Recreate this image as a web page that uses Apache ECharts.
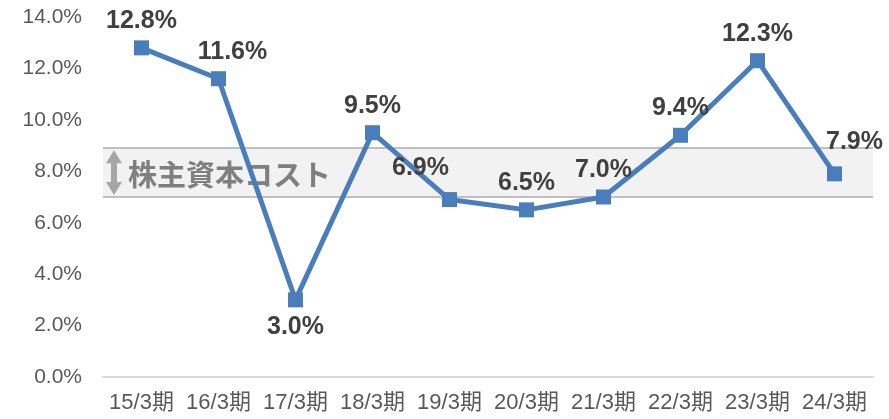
<!DOCTYPE html>
<html>
<head>
<meta charset="utf-8">
<script src="https://cdn.jsdelivr.net/npm/echarts@6/dist/echarts.min.js"></script>
<style>
  html, body { margin: 0; padding: 0; background: #fff; }
  #chart { width: 889px; height: 419px; }
</style>
</head>
<body>
<div id="chart"></div>
<script>
const categories = ['15/3期', '16/3期', '17/3期', '18/3期', '19/3期', '20/3期', '21/3期', '22/3期', '23/3期', '24/3期']
const roe = [12.8, 11.6, 3.0, 9.5, 6.9, 6.5, 7.0, 9.4, 12.3, 7.9]
const costBand = [7.0, 8.9]
const bandLabel = '株主資本コスト'

const fontLatin = '"Liberation Sans", Arial, "Noto Sans CJK JP", sans-serif'

// ラベル位置の微調整
const labelTweaks = {
  1: { offset: [14, 0] },
  2: { position: 'bottom' },
  4: { offset: [-29, -4] },
  9: { offset: [20, -5] },
}

const chart = echarts.init(document.getElementById('chart'))

chart.setOption({
  animation: false,
  grid: { left: 103, right: 16, top: 17, bottom: 42 },
  xAxis: {
    type: 'category',
    data: categories,
    axisTick: { show: false },
    axisLine: { lineStyle: { color: '#d9d9d9', width: 2 } },
    axisLabel: {
      color: '#595959',
      fontSize: 22,
      fontFamily: fontLatin,
      margin: 15,
      interval: 0,
    },
  },
  yAxis: {
    type: 'value',
    min: 0,
    max: 14,
    interval: 2,
    axisLine: { show: false },
    axisTick: { show: false },
    splitLine: { show: false },
    axisLabel: {
      color: '#595959',
      fontSize: 21,
      fontFamily: fontLatin,
      margin: 21,
      formatter: (v) => v.toFixed(1) + '%',
    },
  },
  series: [
    {
      type: 'line',
      data: roe.map((v, i) => {
        const item = { value: v }
        if (labelTweaks[i]) item.label = labelTweaks[i]
        return item
      }),
      z: 5,
      symbol: 'rect',
      symbolSize: 15,
      lineStyle: { color: '#4a7ebb', width: 5 },
      itemStyle: { color: '#4a7ebb' },
      label: {
        show: true,
        position: 'top',
        distance: 7,
        color: '#404040',
        fontSize: 25,
        fontWeight: 'bold',
        fontFamily: fontLatin,
        formatter: (p) => p.value.toFixed(1) + '%',
      },
      markArea: {
        silent: true,
        itemStyle: { color: '#f2f2f2' },
        label: {
          show: true,
          position: 'insideLeft',
          distance: 25,
          offset: [0, 2],
          color: '#7f7f7f',
          fontSize: 29,
          fontWeight: 'bold',
          fontFamily: '"Noto Sans CJK JP", sans-serif',
        },
        data: [[{ yAxis: costBand[0], name: bandLabel }, { yAxis: costBand[1] }]],
      },
      markLine: {
        silent: true,
        symbol: 'none',
        label: { show: false },
        lineStyle: { color: '#bfbfbf', width: 2, type: 'solid' },
        data: costBand.map((v) => ({ yAxis: v })),
      },
    },
  ],
})

// 両矢印
const yTop = chart.convertToPixel({ yAxisIndex: 0 }, costBand[1])
const yBot = chart.convertToPixel({ yAxisIndex: 0 }, costBand[0])
const ax = 114
chart.setOption({
  graphic: [
    {
      type: 'polygon',
      z: 10,
      shape: {
        points: [
          [ax, yTop + 2], [ax + 8, yTop + 15], [ax + 3, yTop + 15],
          [ax + 3, yBot - 15], [ax + 8, yBot - 15], [ax, yBot - 2],
          [ax - 8, yBot - 15], [ax - 3, yBot - 15], [ax - 3, yTop + 15],
          [ax - 8, yTop + 15],
        ],
      },
      style: { fill: '#a6a6a6' },
    },
  ],
})
</script>
</body>
</html>
